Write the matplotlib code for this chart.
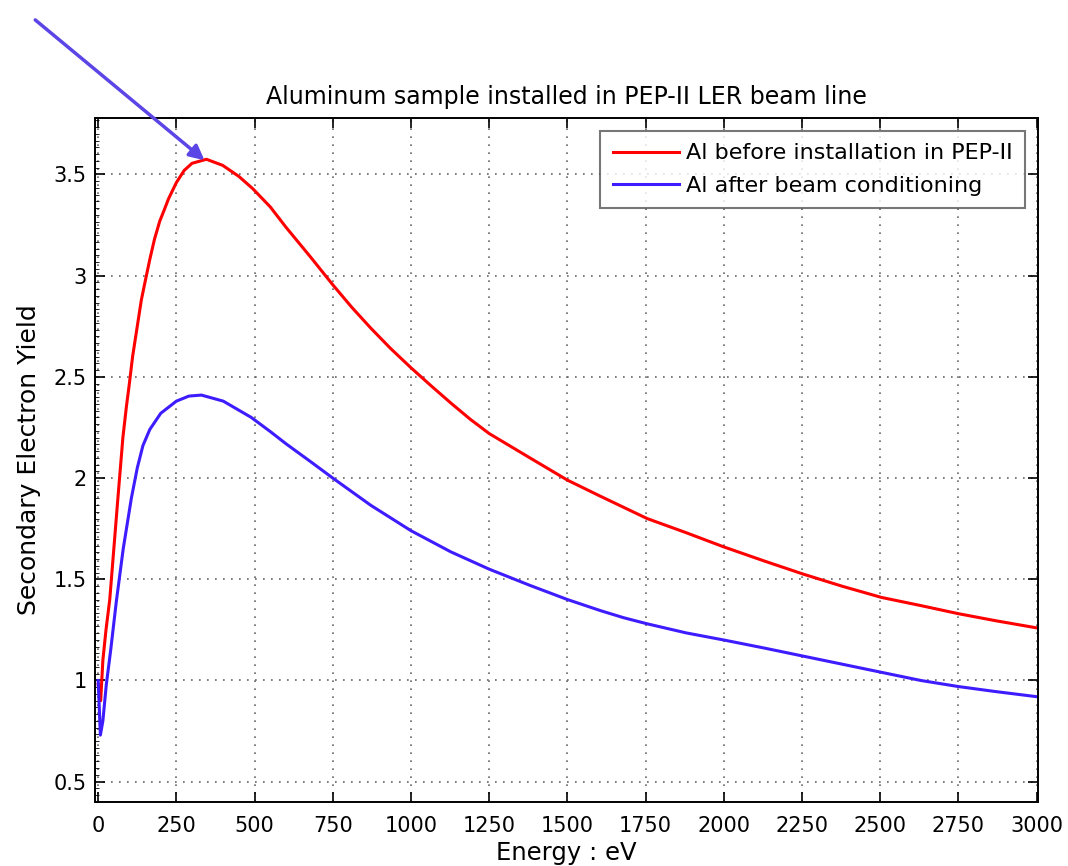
import matplotlib
matplotlib.use('Agg')
import matplotlib.pyplot as plt
from matplotlib.ticker import MultipleLocator

# Energy (eV) and secondary electron yield
red_x = [0, 8, 15, 25, 37, 50, 63, 79, 90, 100, 110, 120, 138, 150, 165, 180, 197, 210, 225,
         250, 275, 300, 346, 398, 450, 494, 550, 600, 680, 750, 810, 872, 935, 1000, 1065,
         1128, 1190, 1250, 1380, 1500, 1606, 1755, 1880, 2000, 2130, 2255, 2380, 2505, 2630,
         2750, 2870, 3000]
red_y = [0.98, 0.9, 1.1, 1.25, 1.4, 1.65, 1.9, 2.2, 2.35, 2.47, 2.6, 2.7, 2.88, 2.97, 3.08, 3.18, 3.27, 3.32, 3.38,
         3.46, 3.52, 3.555, 3.575, 3.545, 3.49, 3.43, 3.34, 3.24, 3.09, 2.955, 2.845, 2.74, 2.64, 2.545, 2.455,
         2.37, 2.29, 2.22, 2.1, 1.99, 1.91, 1.8, 1.73, 1.66, 1.59, 1.525, 1.465, 1.41, 1.37,
         1.33, 1.295, 1.26]

blue_x = [0, 7, 15, 26, 40, 58, 80, 106, 125, 143, 165, 200, 250, 290, 330, 400, 489, 550,
          600, 680, 750, 872, 1000, 1128, 1250, 1380, 1500, 1606, 1680, 1755, 1880, 2000, 2130,
          2255, 2380, 2505, 2630, 2750, 2870, 3000]
blue_y = [1.0, 0.73, 0.8, 0.98, 1.15, 1.39, 1.65, 1.9, 2.05, 2.16, 2.24, 2.32, 2.38, 2.405, 2.41, 2.38, 2.3, 2.23,
          2.17, 2.08, 2.0, 1.865, 1.74, 1.635, 1.55, 1.47, 1.40, 1.345, 1.31, 1.28, 1.235, 1.20, 1.16,
          1.12, 1.08, 1.04, 1.0, 0.97, 0.945, 0.92]

x_ticks = [0, 250, 500, 750, 1000, 1250, 1500, 1750, 2000, 2250, 2500, 2750, 3000]
y_ticks = [0.5, 1, 1.5, 2, 2.5, 3, 3.5]
y_tick_labels = ['0.5', '1', '1.5', '2', '2.5', '3', '3.5']

plt.rcParams['font.family'] = ['DejaVu Sans']

fig = plt.figure(figsize=(10.68, 8.66), dpi=100)
ax = fig.add_axes([0.089, 0.074, 0.883, 0.790])

ax.plot(red_x, red_y, color='#ff0000', lw=2.2, label='Al before installation in PEP-II')
ax.plot(blue_x, blue_y, color='#3d1cff', lw=2.2, label='Al after beam conditioning')

ax.set_xlim(-10, 3005)
ax.set_ylim(0.4, 3.78)
ax.set_xticks(x_ticks)
ax.set_xticklabels([str(t) for t in x_ticks])
ax.set_yticks(y_ticks)
ax.set_yticklabels(y_tick_labels)
ax.yaxis.set_minor_locator(MultipleLocator(0.5 / 15))
ax.tick_params(which='major', direction='in', length=7, width=1.2, labelsize=15,
               top=True, right=True)
ax.tick_params(axis='x', which='major', pad=10)
ax.tick_params(axis='y', which='major', pad=6)
ax.tick_params(which='minor', axis='y', direction='in', length=3, width=0.6, left=True, right=False)
ax.grid(True, linestyle=(0, (1, 3.8)), color='#666666', linewidth=1.2)
for sp in ax.spines.values():
    sp.set_linewidth(1.4)

ax.set_title('Aluminum sample installed in PEP-II LER beam line', fontsize=17, pad=10)
ax.set_xlabel('Energy : eV', fontsize=17.5, labelpad=4)
ax.set_ylabel('Secondary Electron Yield', fontsize=18, labelpad=9)

leg = ax.legend(loc='upper right', fontsize=16, frameon=True, fancybox=False,
                edgecolor='#555555', handlelength=3.0, handletextpad=0.3,
                borderaxespad=0.6, labelspacing=0.55, borderpad=0.55)
leg.get_frame().set_linewidth(1.5)

# arrow pointing at the peak
ax.annotate('', xy=(340, 3.57), xycoords='data',
            xytext=(0.033, 0.977), textcoords='figure fraction',
            arrowprops=dict(arrowstyle='-|>', color='#5b45e6', lw=2.5,
                            mutation_scale=22, shrinkA=0, shrinkB=0),
            annotation_clip=False)

fig.savefig('out.png', dpi=100)
